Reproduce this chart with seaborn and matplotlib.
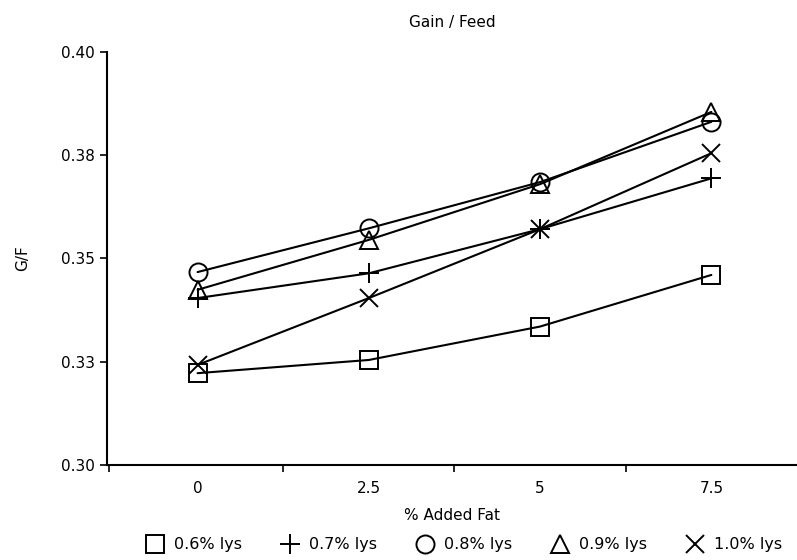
import matplotlib
matplotlib.use("Agg")
import matplotlib.pyplot as plt
import seaborn as sns
import pandas as pd
from matplotlib.lines import Line2D
from matplotlib.ticker import FixedLocator

fat = [0, 2.5, 5, 7.5]
fat_labels = ["0", "2.5", "5", "7.5"]
lys_06 = [0.3222, 0.3254, 0.3335, 0.3460]
lys_07 = [0.3404, 0.3464, 0.3571, 0.3694]
lys_08 = [0.3467, 0.3573, 0.3685, 0.3831]
lys_09 = [0.3424, 0.3545, 0.3680, 0.3855]
lys_10 = [0.3242, 0.3404, 0.3571, 0.3755]
series_names = ["0.6% lys", "0.7% lys", "0.8% lys", "0.9% lys", "1.0% lys"]
y_ticks = [0.30, 0.325, 0.35, 0.375, 0.40]
y_tick_labels = ["0.30", "0.33", "0.35", "0.38", "0.40"]

sns.set_style("white")
plt.rcParams["font.family"] = ["DejaVu Sans"]
plt.rcParams["text.color"] = "black"
plt.rcParams["axes.labelcolor"] = "black"
plt.rcParams["xtick.color"] = "black"
plt.rcParams["ytick.color"] = "black"

fig = plt.figure(figsize=(7.97, 5.6), dpi=100)
ax = fig.add_axes([0.134, 0.170, 0.866, 0.737])

markers = ["s", "+", "o", "^", "x"]
sizes = [13, 15, 13, 13, 13]
handles = []
for name, vals, m, ms in zip(series_names, [lys_06, lys_07, lys_08, lys_09, lys_10], markers, sizes):
    df = pd.DataFrame({"fat": fat, "gf": vals})
    sns.lineplot(data=df, x="fat", y="gf", ax=ax, color="black", lw=1.5,
                 marker=m, markersize=ms, mfc="none", mec="black", mew=1.4)
    handles.append(Line2D([], [], linestyle="none", marker=m, markersize=ms,
                          mfc="none", mec="black", mew=1.4, label=name))

ax.set_xlim(-1.325, 8.75)
ax.set_ylim(0.30, 0.40)
ax.set_xticks(fat)
ax.set_xticklabels(fat_labels, fontsize=11)
ax.xaxis.set_minor_locator(FixedLocator([-1.3, 1.25, 3.75, 6.25]))
ax.tick_params(axis="x", which="major", length=0, pad=12)
ax.tick_params(axis="x", which="minor", length=5, width=1.2, direction="out", bottom=True)
ax.set_yticks(y_ticks)
ax.set_yticklabels(y_tick_labels, fontsize=11)
ax.tick_params(axis="y", length=5, width=1.2, direction="out", left=True)

for side in ["top", "right"]:
    ax.spines[side].set_visible(False)
for side in ["left", "bottom"]:
    ax.spines[side].set_linewidth(1.5)
    ax.spines[side].set_color("black")

ax.set_xlabel("% Added Fat", fontsize=11, labelpad=8)
ax.set_ylabel("G/F", fontsize=11, labelpad=22)
ax.set_title("Gain / Feed", fontsize=11, pad=18)

fig.legend(handles=handles, loc="center", bbox_to_anchor=(0.578, 0.027), ncol=5,
           frameon=False, fontsize=11.5, handletextpad=0.2, columnspacing=2.0,
           borderaxespad=0)

fig.savefig("out.png", dpi=100)
